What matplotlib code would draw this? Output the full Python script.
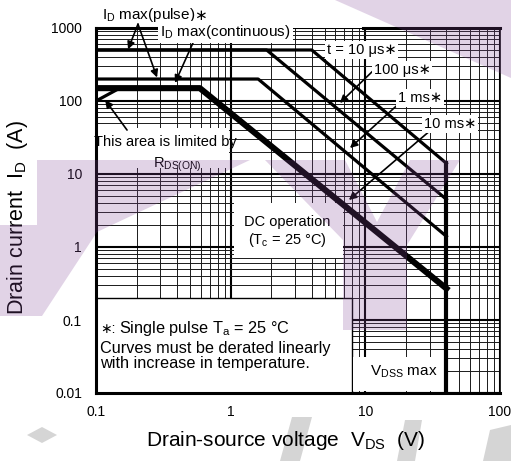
import numpy as np
import matplotlib.pyplot as plt
from matplotlib.patches import Rectangle, Polygon
from matplotlib.transforms import offset_copy
from matplotlib.ticker import LogLocator, NullFormatter, FixedLocator, FixedFormatter

plt.rcParams['font.family'] = ['Liberation Sans', 'DejaVu Sans']
plt.rcParams['mathtext.fontset'] = 'custom'
plt.rcParams['mathtext.rm'] = 'Liberation Sans'
plt.rcParams['mathtext.it'] = 'Liberation Sans'

# safe operating area curves (V, A)
v_10us = [0.1, 4.0, 40]
i_10us = [500, 500, 14]
v_100us = [0.1, 1.85, 40]
i_100us = [500, 500, 4.5]
v_1ms = [0.1, 1.6, 40]
i_1ms = [200, 200, 1.4]
v_dc = [0.1, 0.59, 40]
i_dc = [150, 150, 0.27]
v_rds = [0.1, 0.15]
i_rds = [100, 150]
v_vdss = [40, 40]
i_vdss = [14, 0.01]

x_ticks = [0.1, 1, 10, 100]
x_labels = ['0.1', '1', '10', '100']
y_ticks = [0.01, 0.1, 1, 10, 100, 1000]
y_labels = ['0.01', '0.1', '1', '10', '100', '1000']

W, H = 511, 461
fig = plt.figure(figsize=(W / 100, H / 100), dpi=100)
ax = fig.add_axes([96 / W, 1 - 393 / H, 404 / W, 365 / H])
ax.set_xscale('log')
ax.set_yscale('log')
ax.set_xlim(0.1, 100)
ax.set_ylim(0.01, 1000)

ax.xaxis.set_major_locator(FixedLocator(x_ticks))
ax.xaxis.set_major_formatter(FixedFormatter(x_labels))
ax.yaxis.set_major_locator(FixedLocator(y_ticks))
ax.yaxis.set_major_formatter(FixedFormatter(y_labels))
ax.xaxis.set_minor_locator(LogLocator(subs=np.arange(2, 10)))
ax.yaxis.set_minor_locator(LogLocator(subs=np.arange(2, 10)))
ax.xaxis.set_minor_formatter(NullFormatter())
ax.yaxis.set_minor_formatter(NullFormatter())
ax.tick_params(which='both', length=0, labelsize=10)
ax.tick_params(axis='x', pad=9)
ax.tick_params(axis='y', pad=10)
ax.grid(which='major', color='black', lw=1.5)
ax.grid(which='minor', color='#1a1a1a', lw=0.7)

for s in ['left', 'bottom']:
    ax.spines[s].set_linewidth(2.2)
ax.spines['right'].set_linewidth(1.2)
ax.spines['top'].set_visible(False)
ax.plot([0.1, 0.3], [1000, 1000], color='black', lw=2.2, clip_on=False, zorder=3)
ax.plot([9.6, 100], [1000, 1000], color='black', lw=2.2, clip_on=False, zorder=3)

# white boxes that hide the grid behind the labels
boxes = [
    ((0.1, 0.01), 8 - 0.1, 0.2 - 0.01, 1.0),
    ((0.101, 12), 0.98 - 0.101, 43 - 12, 0),
    ((1.05, 0.7), 6.8 - 1.05, 4 - 0.7, 0),
    ((8.1, 0.0106), 38.4 - 8.1, 0.031 - 0.0106, 0),
]
for xy, w, h, ew in boxes:
    ax.add_patch(Rectangle(xy, w, h, facecolor='white', edgecolor='black',
                           lw=ew, zorder=1.8))

lw = 2.3
ax.plot(v_10us, i_10us, color='black', lw=lw, zorder=3)
ax.plot(v_100us, i_100us, color='black', lw=lw, zorder=3)
ax.plot(v_1ms, i_1ms, color='black', lw=lw, zorder=3)
ax.plot(v_dc, i_dc, color='black', lw=4.4, zorder=3)
ax.plot(v_rds, i_rds, color='black', lw=lw, zorder=3)
ax.plot(v_vdss, i_vdss, color='black', lw=3.0, zorder=3)

wbox = dict(boxstyle='square,pad=0.12', fc='white', ec='none')
arr = dict(arrowstyle='-|>', color='black', lw=1.2, mutation_scale=11,
           shrinkA=0, shrinkB=0)
fs = 10.5

# the asterisk operator is missing from Liberation Sans in mathtext,
# so it is drawn as its own text next to the mathtext labels
t = ax.text(0.1108, 1500, 'I$_\\mathregular{D}$ max(pulse)', fontsize=11,
            ha='left', va='center', zorder=5, clip_on=False)
ax.annotate('\u2217', xy=(1, 0), xycoords=t, xytext=(-1, 0.5),
            textcoords='offset points', ha='left', va='bottom', fontsize=11,
            family='DejaVu Sans', zorder=5, annotation_clip=False)
ax.annotate('', xy=(0.173, 510), xytext=(0.205, 1130), arrowprops=arr,
            annotation_clip=False, zorder=4)
ax.annotate('', xy=(0.284, 210), xytext=(0.205, 1130), arrowprops=arr,
            annotation_clip=False, zorder=4)
ax.text(0.3, 880, 'I$_\\mathregular{D}$ max(continuous)', fontsize=11,
        ha='left', va='center', bbox=wbox, zorder=5)
ax.annotate('', xy=(0.386, 177), xytext=(0.53, 650), arrowprops=arr, zorder=4)

ax.text(9.4, 500, 't = 10 \u03bcs\u2217', fontsize=fs, ha='center', va='center',
        bbox=wbox, zorder=5)
ax.text(18.7, 266, '100 \u03bcs\u2217', fontsize=fs, ha='center', va='center',
        bbox=wbox, zorder=5)
ax.annotate('', xy=(6.47, 94), xytext=(12.2, 292), arrowprops=arr, zorder=4)
ax.text(25.4, 110, '1 ms\u2217', fontsize=fs, ha='center', va='center',
        bbox=wbox, zorder=5)
ax.annotate('', xy=(7.69, 22.7), xytext=(19, 103), arrowprops=arr, zorder=4)
ax.text(42.5, 48.4, '10 ms\u2217', fontsize=fs, ha='center', va='center',
        bbox=wbox, zorder=5)
ax.annotate('', xy=(7.55, 4.4), xytext=(30.7, 40.1), arrowprops=arr, zorder=4)

ax.text(0.325, 27.4, 'This area is limited by', fontsize=fs, ha='center',
        va='center', zorder=5)
ax.text(0.40, 13.3, 'R$_\\mathregular{DS(ON)}$', fontsize=fs, ha='center',
        va='center', zorder=5)
ax.annotate('', xy=(0.117, 103), xytext=(0.17, 40), arrowprops=arr, zorder=4)

ax.text(2.62, 2.2, 'DC operation', fontsize=fs, ha='center', va='center', zorder=5)
ax.text(2.62, 1.25, '(T$_\\mathregular{c}$ = 25 \u00b0C)', fontsize=fs,
        ha='center', va='center', zorder=5)

fs2 = 11.7
ax.text(0.107, 0.066, '\u2217:', fontsize=10, ha='left', va='baseline',
        zorder=5)
ax.text(0.107, 0.066, 'Single pulse T$_\\mathregular{a}$ = 25 \u00b0C',
        fontsize=fs2, ha='left', va='baseline', zorder=5,
        transform=offset_copy(ax.transData, fig, x=19, units='dots'))
ax.text(0.107, 0.041, 'Curves must be derated linearly', fontsize=fs2,
        ha='left', va='center', zorder=5)
ax.text(0.107, 0.0255, 'with increase in temperature.', fontsize=fs2,
        ha='left', va='center', zorder=5)
ax.text(19.4, 0.0194, 'V$_\\mathregular{DSS}$ max', fontsize=11, ha='center',
        va='center', zorder=5)

ax.set_xlabel('Drain-source voltage  V$_\\mathregular{DS}$  (V)', fontsize=15)
ax.xaxis.set_label_coords(0.47, -0.098)
ax.set_ylabel('Drain current  I$_\\mathregular{D}$  (A)', fontsize=15.5)
ax.yaxis.set_label_coords(-0.164, 0.482)


# faint watermark, pixel coords from the top-left corner
def px(pts):
    return [(x / W, 1 - y / H) for x, y in pts]


marks = [
    [(335, 0), (511, 0), (511, 78)],
    [(37, 160), (250, 160), (97, 232), (42, 316), (0, 316), (0, 225),
     (37, 225)],
    [(265, 160), (345, 160), (377, 222), (410, 160), (460, 160), (407, 245),
     (407, 330), (343, 330), (343, 240)],
]
for m in marks:
    fig.add_artist(Polygon(px(m), closed=True, transform=fig.transFigure,
                           fc='#84489a', ec='none', alpha=0.24, zorder=10))
grey = [
    [(27, 435), (42, 427), (57, 435), (42, 443)],
    [(292, 417), (312, 417), (300, 461), (280, 461)],
    [(405, 420), (422, 420), (415, 461), (397, 461)],
    [(490, 430), (511, 425), (511, 461), (483, 461)],
]
for m in grey:
    fig.add_artist(Polygon(px(m), closed=True, transform=fig.transFigure,
                           fc='#d5d5d5', ec='none', zorder=0))

fig.savefig('out.png', dpi=100)
